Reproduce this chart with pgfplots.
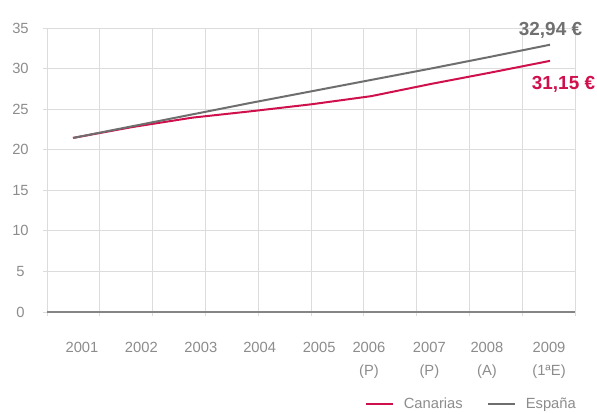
\documentclass[border=0pt]{standalone}
\usepackage{fontspec}
\setmainfont{Liberation Sans}
\usepackage{pgfplots}
\pgfplotsset{compat=1.18}
\definecolor{canarias}{HTML}{D0104C}
\definecolor{espana}{HTML}{6E6E6E}
\definecolor{gridc}{HTML}{DCDCDC}
\definecolor{tickc}{HTML}{8C8C8C}
\definecolor{zeroc}{HTML}{858585}
\definecolor{lblgray}{HTML}{707070}
\begin{document}
\begin{tikzpicture}
\path[use as bounding box] (-47bp,-102bp) rectangle (550bp,312bp);
\begin{axis}[
  at={(0,0)}, anchor=south west,
  scale only axis, width=528bp, height=284bp,
  xmin=-0.436, xmax=8.419, ymin=0, ymax=35,
  clip=false,
  axis line style={draw=none},
  xtick={-0.436,0.4495,1.335,2.2205,3.106,3.9915,4.877,5.7625,6.648,7.5335,8.419},
  xticklabels={},
  ytick={0,5,...,35},
  xtick pos=bottom, ytick pos=left,
  grid=major,
  major grid style={gridc, line width=0.9bp},
  tick style={gridc, line width=0.9bp},
  tick align=outside,
  major tick length=4bp,
  /pgf/number format/assume math mode=true,
  yticklabel style={font=\fontsize{14.8}{17}\selectfont, text=tickc, anchor=center, xshift=-22.5bp},
  xticklabel style={font=\fontsize{14.8}{23}\selectfont, text=tickc, align=center, anchor=north, yshift=-27bp},
  extra x ticks={0.151,1.147,2.145,3.131,4.129,4.963,5.977,6.942,7.983},
  extra x tick labels={2001,2002,2003,2004,2005,{2006\\(P)},{2007\\(P)},{2008\\(A)},{2009\\(1ªE)}},
  extra x tick style={grid=none, major tick length=0pt, tick style={draw=none}},
  extra y ticks={0}, extra y tick labels={},
  extra y tick style={major grid style={zeroc, line width=2.2bp}, major tick length=0pt, tick style={draw=none}},
  legend columns=2,
  legend style={at={(1,0)}, anchor=north east, yshift=-82bp, xshift=6bp, draw=none, fill=none,
    font=\fontsize{14.8}{17}\selectfont, text=tickc,
    /tikz/every odd column/.append style={column sep=8bp},
    /tikz/every even column/.append style={column sep=22bp}},
  legend image code/.code={\draw[#1] (0bp,0bp) -- (27bp,0bp);},
]
\addplot[canarias, line width=2bp] coordinates {(0,21.45) (1,22.8) (2,23.95) (3,24.75) (4,25.6) (5,26.6) (6,28.1) (7,29.5) (8,30.95)};
\addlegendentry{Canarias}
\addplot[espana, line width=2bp] coordinates {(0,21.45) (1,22.9) (2,24.35) (3,25.8) (4,27.2) (5,28.6) (6,30.0) (7,31.45) (8,32.94)};
\addlegendentry{España}
\node[anchor=west, inner sep=0pt, font=\bfseries\fontsize{19}{22}\selectfont, text=lblgray] at (axis cs:7.475,34.7) {32,94 €};
\node[anchor=west, inner sep=0pt, font=\bfseries\fontsize{19}{22}\selectfont, text=canarias] at (axis cs:7.693,28.1) {31,15 €};
\end{axis}
\end{tikzpicture}
\end{document}
